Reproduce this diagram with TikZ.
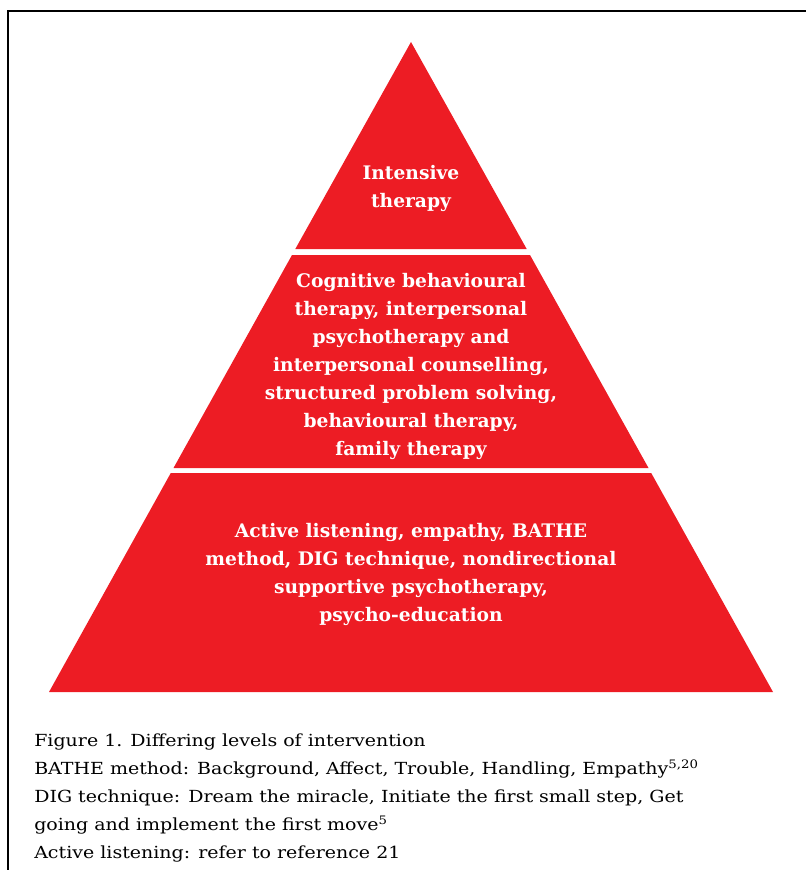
\documentclass[tikz,border=0pt]{standalone}
\usepackage{fontspec}
\setmainfont{DejaVu Serif}
\newfontfamily\tierfont{DejaVu Serif}
\newfontfamily\notefont{DejaVu Serif}[FakeStretch=1.14]
\definecolor{pyramidred}{RGB}{237,28,36}

\begin{document}
\begin{tikzpicture}[x=.75pt, y=-.75pt,
    tier/.style={fill=pyramidred},
    tiertext/.style={text=white, align=center, inner sep=0pt,
      font=\tierfont\bfseries\fontsize{14}{21}\selectfont},
    notes/.style={anchor=north west, align=left, inner sep=0pt,
      font=\notefont\fontsize{12.5}{21}\selectfont}]
    \useasboundingbox (0,0) rectangle (806,870);
    \draw[line width=1.2pt] (8,870) -- (8,11) -- (806,11);

    \fill[tier] (411,42) -- (526.7,249) -- (295.3,249) -- cycle;
    \fill[tier] (292,255) -- (530,255) -- (648.5,468) -- (173.5,468) -- cycle;
    \fill[tier] (170.8,473) -- (651.2,473) -- (773,692) -- (49,692) -- cycle;

    \node[tiertext] (intensive) at (411,188) {Intensive\\therapy};
    \node[tiertext] (cognitive) at (411,366) {Cognitive behavioural\\therapy, interpersonal\\psychotherapy and\\interpersonal counselling,\\structured problem solving,\\behavioural therapy,\\family therapy};
    \node[tiertext] (listening) at (411,574.5) {Active listening, empathy, BATHE\\method, DIG technique, nondirectional\\supportive psychotherapy,\\psycho-education};

    \node[notes] (caption) at (34,733.5) {Figure 1. Differing levels of intervention\\
      BATHE method: Background, Affect, Trouble, Handling, Empathy\textsuperscript{5,20}\\
      DIG technique: Dream the miracle, Initiate the first small step, Get\\
      going and implement the first move\textsuperscript{5}\\
      Active listening: refer to reference 21};
\end{tikzpicture}
\end{document}
